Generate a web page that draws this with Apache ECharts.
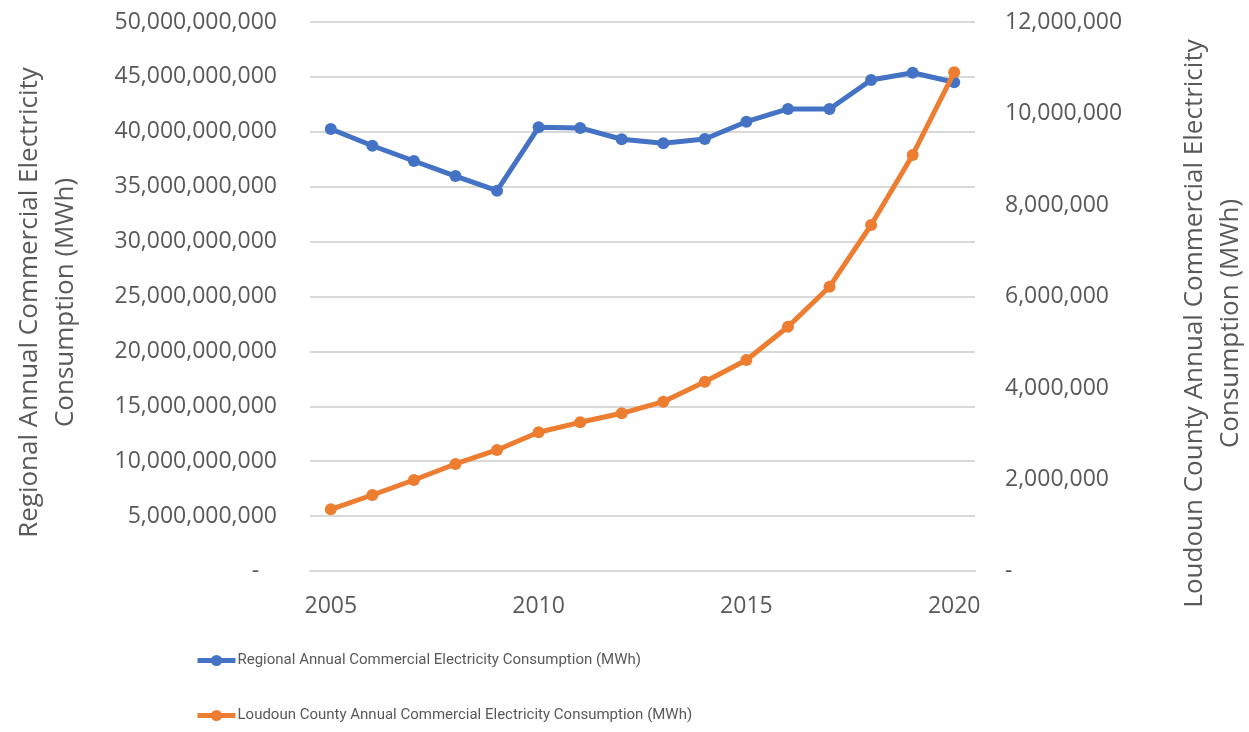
<!DOCTYPE html>
<html>
<head>
<meta charset="utf-8">
<script src="https://cdn.jsdelivr.net/npm/echarts@6/dist/echarts.min.js"></script>
<style>
  html, body { margin: 0; padding: 0; background: #ffffff; }
  #chart { width: 1249px; height: 732px; }
</style>
</head>
<body>
<div id="chart"></div>
<script>
// Years on the category axis
const years = ['2005','2006','2007','2008','2009','2010','2011','2012','2013','2014','2015','2016','2017','2018','2019','2020'];

// Regional annual commercial electricity consumption (MWh), left axis
const regional = [40.26e9, 38.73e9, 37.34e9, 35.97e9, 34.64e9, 40.41e9, 40.35e9, 39.32e9, 38.95e9, 39.34e9, 40.92e9, 42.08e9, 42.08e9, 44.72e9, 45.38e9, 44.51e9];

// Loudoun County annual commercial electricity consumption (MWh), right axis
const loudoun = [1.349e6, 1.661e6, 1.989e6, 2.339e6, 2.645e6, 3.032e6, 3.250e6, 3.447e6, 3.701e6, 4.138e6, 4.612e6, 5.340e6, 6.214e6, 7.563e6, 9.093e6, 10.90e6];

const regionalName = 'Regional Annual Commercial Electricity Consumption (MWh)';
const loudounName = 'Loudoun County Annual Commercial Electricity Consumption (MWh)';
const leftTitle = 'Regional Annual Commercial Electricity\nConsumption (MWh)';
const rightTitle = 'Loudoun County Annual Commercial Electricity\nConsumption (MWh)';

const BLUE = '#4472C4';
const ORANGE = '#ED7D31';
const TEXT = '#595959';
const GRID = '#D9D9D9';
const FONT = '"Open Sans", "Noto Sans", sans-serif';

// Accounting-style number: thousands separators, dash for zero
function acct(v) {
  if (v === 0) return '-';
  return Math.round(v).toString().replace(/\B(?=(\d{3})+(?!\d))/g, ',');
}

const chart = echarts.init(document.getElementById('chart'), null, { renderer: 'canvas' });

chart.setOption({
  backgroundColor: '#ffffff',
  animation: false,
  textStyle: { fontFamily: FONT },
  grid: { left: 310, right: 274, top: 22, bottom: 161, containLabel: false, outerBoundsMode: 'none' },
  legend: {
    orient: 'vertical',
    left: 190,
    top: 648,
    itemWidth: 38,
    itemHeight: 14,
    itemGap: 40,
    lineStyle: { width: 5 },
    textStyle: { color: TEXT, fontSize: 15, fontFamily: 'Roboto, "Open Sans", sans-serif', padding: [0, 0, 0, -3] },
    data: [regionalName, loudounName]
  },
  xAxis: {
    type: 'category',
    data: years,
    boundaryGap: true,
    axisLine: { show: true, lineStyle: { color: GRID, width: 2 } },
    axisTick: { show: false },
    axisLabel: { interval: 4, color: TEXT, fontSize: 23, margin: 24, fontFamily: FONT },
    splitLine: { show: false }
  },
  yAxis: [
    {
      type: 'value',
      position: 'left',
      min: 0,
      max: 50e9,
      interval: 5e9,
      axisLine: { show: false },
      axisTick: { show: false },
      axisLabel: {
        color: TEXT, fontSize: 23, margin: 33, fontFamily: FONT,
        formatter: function (v) { return v === 0 ? '-   ' : acct(v); }
      },
      splitLine: { show: true, lineStyle: { color: GRID, width: 2 } },
      name: leftTitle,
      nameLocation: 'middle',
      nameRotate: 90,
      nameGap: 226,
      nameTextStyle: { color: TEXT, fontSize: 26, fontFamily: FONT, lineHeight: 36, align: 'center', padding: [0, 12, 0, 0] }
    },
    {
      type: 'value',
      position: 'right',
      min: 0,
      max: 12e6,
      interval: 2e6,
      axisLine: { show: false },
      axisTick: { show: false },
      axisLabel: {
        color: TEXT, fontSize: 23, margin: 30, fontFamily: FONT,
        formatter: acct
      },
      splitLine: { show: false },
      name: rightTitle,
      nameLocation: 'middle',
      nameRotate: 90,
      nameGap: 202,
      nameTextStyle: { color: TEXT, fontSize: 26, fontFamily: FONT, lineHeight: 36, align: 'center', padding: [0, 54, 0, 0] }
    }
  ],
  series: [
    {
      name: regionalName,
      type: 'line',
      yAxisIndex: 0,
      data: regional,
      symbol: 'circle',
      symbolSize: 12,
      lineStyle: { color: BLUE, width: 5 },
      itemStyle: { color: BLUE },
      z: 2
    },
    {
      name: loudounName,
      type: 'line',
      yAxisIndex: 1,
      data: loudoun,
      symbol: 'circle',
      symbolSize: 12,
      lineStyle: { color: ORANGE, width: 5 },
      itemStyle: { color: ORANGE },
      z: 3
    }
  ]
});
</script>
</body>
</html>
